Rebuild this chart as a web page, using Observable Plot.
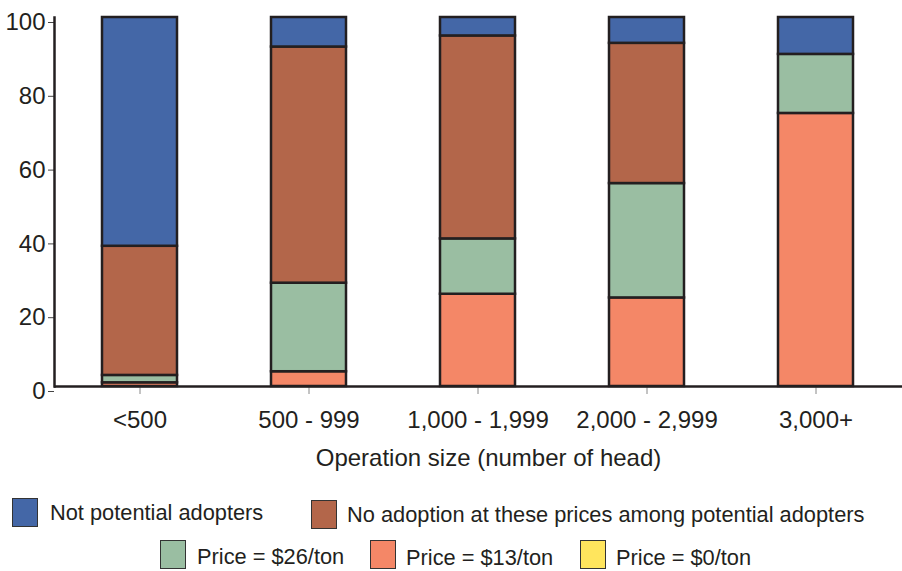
<!DOCTYPE html>
<html>
<head>
<meta charset="utf-8">
<script src="https://cdn.jsdelivr.net/npm/d3@7"></script>
<script src="https://cdn.jsdelivr.net/npm/@observablehq/plot@0.6"></script>
<style>
  html, body { margin: 0; padding: 0; background: #fff; }
  #wrap { position: relative; width: 902px; height: 571px; font-family: "Liberation Sans", Arial, Helvetica, sans-serif; color: #231f20; }
  #chart svg { display: block; }
  .sw { position: absolute; box-sizing: border-box; border: 1.5px solid #333; }
  .lt { position: absolute; font-size: 21.8px; line-height: 1; white-space: nowrap; transform: translateY(-50%); }
</style>
</head>
<body>
<div id="wrap">
  <div id="chart"></div>
  <div id="legend"></div>
</div>
<script>
// ---- data ----
const categories = ["<500", "500 - 999", "1,000 - 1,999", "2,000 - 2,999", "3,000+"];
const seriesNames = [
  "Price = $0/ton",
  "Price = $13/ton",
  "Price = $26/ton",
  "No adoption at these prices among potential adopters",
  "Not potential adopters"
];
const seriesColors = ["#ffe55d", "#f48767", "#9abea2", "#b3664a", "#4467a7"];
const price0 = [0, 0, 0, 0, 0];
const price13 = [1, 4, 25, 24, 74];
const price26 = [2, 24, 15, 31, 16];
const noAdoption = [35, 64, 55, 38, 0];
const notPotential = [62, 8, 5, 7, 10];
const yTicks = [0, 20, 40, 60, 80, 100];
const xLabel = "Operation size (number of head)";

const seriesValues = [price0, price13, price26, noAdoption, notPotential];
const table = [];
seriesNames.forEach((s, si) => {
  categories.forEach((c, ci) => {
    table.push({ category: c, series: s, value: seriesValues[si][ci] });
  });
});

const ink = "#231f20";
const chart = Plot.plot({
  width: 902,
  height: 480,
  marginLeft: 54,
  marginRight: 0,
  marginTop: 17,
  marginBottom: 94,
  style: { fontFamily: "'Liberation Sans', Arial, Helvetica, sans-serif", fontSize: "24px", color: ink, background: "#fff" },
  x: { domain: categories, paddingInner: 0.556, paddingOuter: 0.28, label: null },
  y: { domain: [0, 100], label: null },
  color: { domain: seriesNames, range: seriesColors },
  marks: [
    Plot.barY(table.filter(d => d.value > 0), {
      x: "category", y: "value", fill: "series", order: seriesNames,
      stroke: ink, strokeWidth: 2.5
    }),
    Plot.axisY({ ticks: yTicks, tickSize: 6, tickPadding: 3, dy: 5, fontSize: 24, stroke: "#444", label: null }),
    Plot.axisX({ tickSize: 8, tickPadding: 16, fontSize: 24, stroke: "#888", label: null }),
    Plot.ruleY([0], { stroke: ink, strokeWidth: 2.5 }),
    Plot.frame({ anchor: "left", stroke: ink, strokeWidth: 2.5 }),
    Plot.text([xLabel], { frameAnchor: "bottom", dy: 79, dx: 10, fontSize: 24, fill: ink })
  ]
});
document.getElementById("chart").appendChild(chart);

// ---- legend (HTML) ----
const legendLayout = [
  { i: 4, sx: 12, sy: 498, tx: 50, ty: 513 },
  { i: 3, sx: 311, sy: 500, tx: 347, ty: 515 },
  { i: 2, sx: 160, sy: 540, tx: 197, ty: 557 },
  { i: 1, sx: 370, sy: 540, tx: 406, ty: 558 },
  { i: 0, sx: 580, sy: 540, tx: 616, ty: 558 }
];
const legend = document.getElementById("legend");
legendLayout.forEach(l => {
  const sw = document.createElement("div");
  sw.className = "sw";
  Object.assign(sw.style, { left: l.sx + "px", top: l.sy + "px", width: "26px", height: "29px", background: seriesColors[l.i] });
  legend.appendChild(sw);
  const t = document.createElement("div");
  t.className = "lt";
  t.textContent = seriesNames[l.i];
  Object.assign(t.style, { left: l.tx + "px", top: l.ty + "px" });
  legend.appendChild(t);
});
</script>
</body>
</html>
